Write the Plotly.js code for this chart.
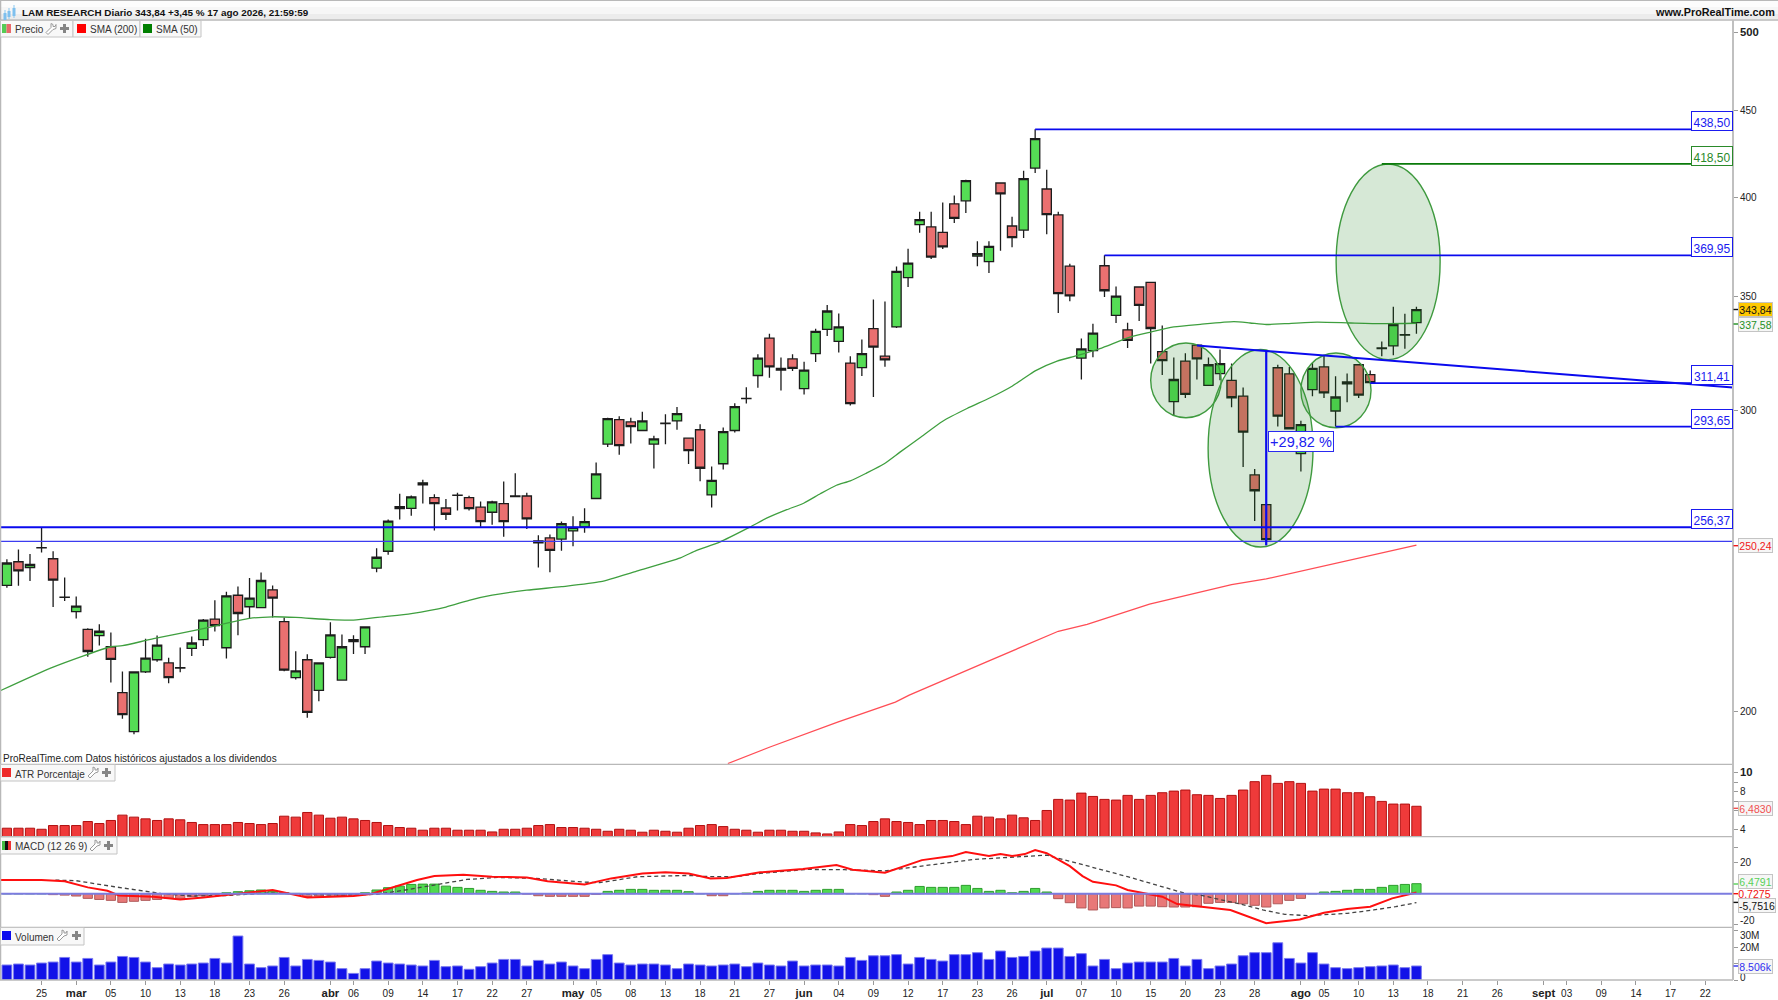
<!DOCTYPE html>
<html>
<head>
<meta charset="utf-8">
<script src="https://cdn.plot.ly/plotly-3.0.1.min.js"></script>
<style>html,body{margin:0;padding:0;background:#fff}#c{width:1778px;height:1000px}</style>
</head>
<body>
<div id="c"></div>
<script>
var opens=[237.0,244.7,242.8,249.3,245.7,233.3,228.8,223.4,221.5,218.2,205.1,194.6,210.9,214.4,213.5,212.0,217.7,220.3,226.5,217.9,233.9,230.3,230.0,235.6,225.7,209.3,214.4,205.7,215.1,208.6,219.7,218.2,242.6,248.2,262.9,263.0,271.5,266.8,263.1,267.7,266.8,263.4,261.6,264.7,267.4,267.4,251.7,252.7,252.3,255.1,256.5,266.5,
286.8,296.4,295.5,292.1,286.8,295.0,295.9,289.1,292.4,267.8,279.3,292.1,304.9,314.6,330.9,316.9,321.7,309.1,324.0,334.8,329.4,319.9,318.0,335.1,322.9,335.9,359.0,385.6,384.4,381.6,396.6,398.2,369.6,366.8,407.9,384.9,382.8,416.2,404.6,390.7,364.6,322.1,325.3,364.8,341.2,334.6,354.5,356.7,324.9,303.7,320.8,327.8,310.4,315.4,312.5,306.0,275.1,264.3,317.9,315.3,283.1,308.7,318.3,299.9,311.9,319.2,315.0,326.2,327.4,332.2,337.9];
var highs=[245.5,248.8,247.3,256.3,248.2,239.6,233.5,223.7,224.9,222.4,211.0,211.1,220.6,221.5,215.0,218.0,221.2,226.5,232.3,235.0,236.7,239.4,241.2,237.0,227.0,216.9,216.0,213.5,225.5,221.8,221.6,224.1,249.2,259.1,268.2,267.6,273.3,268.0,266.3,268.6,267.5,265.4,265.7,272.7,275.7,268.6,253.6,253.9,258.4,260.2,263.0,279.8,
297.2,297.8,297.2,299.6,290.0,298.6,301.5,289.1,294.6,278.3,293.3,303.0,309.7,323.7,332.8,322.3,323.7,320.5,335.1,346.0,342.1,322.9,330.3,348.6,347.6,364.4,373.3,392.4,392.4,397.3,401.0,409.7,377.0,377.0,408.1,389.7,414.7,438.5,415.2,392.4,365.8,330.7,337.4,369.95,354.7,337.8,354.5,356.9,336.6,322.3,324.2,327.8,322.3,325.8,319.7,309.6,277.3,264.3,319.2,318.2,296.0,320.1,323.3,314.3,315.4,319.2,316.7,329.4,345.2,341.9,345.2];
var lows=[236.3,236.9,238.4,247.8,230.2,232.1,226.7,215.3,218.6,207.9,198.0,193.9,210.6,213.8,207.7,210.8,215.5,218.4,222.7,214.8,221.6,226.6,230.0,227.0,211.1,208.8,198.3,202.7,214.8,208.4,216.1,216.1,241.3,247.0,259.1,260.4,264.7,255.2,258.9,262.2,262.2,256.5,257.2,253.1,267.1,255.8,242.8,241.3,248.4,249.9,254.5,266.5,
285.7,282.7,287.0,292.1,277.5,286.7,292.4,279.2,272.8,263.3,277.1,291.3,302.9,309.4,313.7,308.3,316.5,306.6,320.4,331.8,324.5,302.1,314.4,305.6,318.3,335.4,354.5,381.4,368.1,373.2,386.5,391.7,364.6,361.2,372.2,374.0,378.7,413.4,380.6,342.3,347.8,312.9,322.4,349.7,337.7,326.5,338.6,319.7,314.8,298.2,305.2,312.9,310.4,312.6,301.4,278.1,258.5,250.2,293.7,292.8,276.4,305.9,305.2,293.7,303.5,305.2,311.2,322.9,323.3,326.2,332.8];
var closes=[244.3,241.7,243.8,249.4,238.7,233.2,230.5,216.8,222.8,214.5,199.1,210.9,214.9,218.7,209.3,212.1,219.3,226.2,224.5,233.7,228.2,233.0,238.6,233.0,211.4,211.2,199.7,213.5,221.7,218.2,220.3,224.1,246.2,258.5,263.6,267.1,272.2,264.7,260.9,267.6,262.9,258.3,265.3,258.3,267.2,259.3,251.0,248.5,257.6,256.3,258.3,275.5,
296.8,286.2,293.6,295.9,288.8,294.8,298.8,284.3,277.6,273.1,291.7,301.7,305.0,322.1,318.3,317.6,317.6,316.9,333.9,343.2,335.9,302.9,324.0,326.9,321.3,362.0,366.1,388.2,369.1,374.2,388.9,409.2,370.8,374.5,401.9,378.9,410.3,433.0,390.9,351.3,350.3,326.1,333.1,352.7,350.2,329.9,345.8,335.2,321.0,312.9,306.7,321.7,319.2,319.7,305.3,291.5,269.3,252.1,297.8,292.8,294.4,317.6,307.3,305.6,311.1,306.4,311.6,326.5,337.0,332.4,343.84];

var sma50Idx=[-0.6,4,9,10,12.7,17,21,23,25,28,30,32.5,35,38,40,42,45,48,51.4,54.4,58.3,59.7,61.7,64.3,65.8,67.5,69,70.4,71.8,73,74.4,75.9,77.3,79,81,83.1,85.1,87,88,89,90.9,92.6,94.6,97.2,99,101,103.3,106.2,107.6,109,110.6,113.4,116.3,119,122];
var sma50Val=[205.6,212.3,218.2,218.5,220.6,223.6,226.7,227.2,227.0,226.3,226.2,227.2,228.2,230.2,232.3,233.9,235.5,236.6,238.2,241.5,246.0,248.5,251.3,256.4,259.6,262.5,264.9,268.2,271.3,272.9,275.8,279.2,283.7,289.2,295.8,300.9,305.3,310.1,313.3,316.6,320.8,323.1,326.2,331.3,333.6,335.9,337.1,338.3,337.7,337.0,337.4,338.1,337.7,337.4,337.58];
var sma200Idx=[62.4,66.05,71.9,76.9,78.1,82.2,85,91,93.5,98.9,106,109,115.6,122];
var sma200Val=[186.4,190.6,197.1,202.5,204.4,210.2,214.1,222.8,224.9,231.1,237.3,239.1,244.6,250.24];

var atrVals=[4.18,4.18,4.18,4.07,4.46,4.46,4.46,4.88,4.67,4.99,5.55,5.34,5.16,4.99,5.16,5.06,4.78,4.56,4.56,4.56,4.78,4.67,4.56,4.67,5.44,5.34,5.83,5.55,5.23,5.34,5.16,4.99,4.78,4.46,4.25,4.18,3.97,4.18,4.18,3.97,3.97,3.97,3.79,4.07,4.07,4.18,4.46,4.56,4.25,4.25,4.18,4.07,
3.86,4.07,3.97,3.76,3.97,3.86,3.76,4.18,4.46,4.56,4.35,4.07,3.97,3.76,3.97,3.97,3.86,3.86,3.69,3.58,3.79,4.56,4.46,4.88,5.16,4.88,4.78,4.56,4.99,4.99,4.88,4.56,5.44,5.34,5.16,5.55,5.27,4.99,6.04,7.20,7.13,7.86,7.51,7.20,7.13,7.62,7.20,7.62,7.90,8.07,8.18,7.69,
7.62,7.30,7.62,8.18,9.06,9.72,8.88,9.06,8.88,8.07,8.28,8.28,7.90,7.90,7.48,6.99,6.71,6.71,6.48];
var macdIdx=[-0.6,3,5,7,8.7,9.7,12.7,15,17,20,23,26,30,31.5,33.5,35.5,37,39.5,42,45,46.8,50,52.3,55,57,59,60.9,62.3,65.2,68.9,71.8,73.2,76,77.8,79.2,81.8,83,85,86,87,88.1,89,90,92,93.1,94,96,97,99,100,101.3,103,105.9,109,111.9,114,116,118,119.9,122];
var macdVals=[8.8,8.8,8.0,4.1,1.9,-1.1,-1.9,-3.7,-2.4,-0.2,2.4,-2.4,-1.5,-0.2,4.1,8.8,11.4,12.3,11.0,10.5,8.0,6.0,9.9,13.1,13.8,13.1,9.9,10.1,13.8,15.9,18.5,15.5,13.5,18.1,21.7,24.3,26.9,24.3,25.6,24.3,25.6,28.2,26.2,17.8,11.4,7.7,5.4,2.4,-0.2,-1.9,-6.7,-8.0,-10.5,-19.1,-16.6,-12.3,-9.9,-8.4,-3.0,0.7275];
var signalIdx=[4.2,6,9.3,13.3,16,19.3,22.6,25.9,29.2,32,34.5,37.5,39.8,42.5,45.8,50,51.3,54.6,59,60.9,63,65.2,69.2,72.5,76,81,83.8,87.7,90,92.7,97,102,103.3,105.2,106.8,108.7,110.6,112.6,116,118.3,120.2,122];
var signalVals=[8.8,8.4,4.5,0.2,-1.5,-1.1,0.6,-0.4,-0.9,-0.4,2.4,6.0,9.2,10.5,9.9,7.5,7.1,11.0,11.8,11.0,11.0,13.1,15.7,15.5,14.8,19.6,22.2,23.9,24.9,19.6,11.0,0.2,-0.9,-4.1,-6.7,-10.5,-13.3,-14.2,-12.7,-10.5,-8.4,-5.75];
var histVals=[0,0,0,0,-0.6,-0.9,-1.5,-3.0,-3.7,-4.3,-5.6,-4.9,-4.3,-3.7,-3.0,-3.0,-1.9,-1.3,-0.4,0.6,1.3,1.9,2.4,1.7,0.6,0.2,-1.9,-1.5,-0.9,-1.3,-0.9,0.6,2.4,3.9,4.9,6.0,6.2,6.2,4.9,4.1,3.4,2.2,1.5,1.1,1.1,-0.2,-1.3,-1.7,-1.7,-1.7,-1.7,-0.4,
1.5,2.2,2.8,2.8,2.2,2.2,2.2,1.3,0,-1.3,-1.3,0,0.4,1.5,2.2,2.2,2.2,1.5,2.2,2.8,2.8,0,0,-0.6,-1.7,1.1,2.2,4.7,4.1,4.1,4.1,5.4,3.4,1.5,2.2,0.6,1.5,3.4,1.1,-3.2,-5.8,-9.2,-10.5,-9.2,-9.0,-9.2,-8.0,-8.0,-8.4,-8.6,-8.6,-8.4,
-6.2,-5.6,-5.6,-6.5,-7.5,-8.6,-6.5,-4.3,-3.0,0,1.1,1.5,2.2,2.8,2.8,4.1,5.4,6.0,6.48];
var volVals=[9.1,9.7,9.1,10.3,10.9,13.7,10.9,13.1,9.1,10.9,14.3,13.7,10.9,7.5,9.7,9.1,9.7,10.3,13.1,10.3,26.7,9.7,7.5,8.5,13.7,8.5,12.5,11.9,10.9,6.9,4.0,6.9,11.5,10.3,9.7,9.1,8.5,11.9,8.1,8.5,6.5,8.1,10.3,12.5,12.5,8.5,11.9,9.7,10.9,8.5,6.9,12.5,
15.4,10.3,9.1,9.7,9.7,9.1,6.9,9.7,9.1,8.5,9.1,9.7,8.1,10.3,9.1,8.5,11.5,8.5,9.1,9.1,8.5,13.7,11.9,14.7,14.7,15.4,9.7,13.7,12.5,11.5,15.4,15.4,16.6,12.5,17.6,13.7,14.3,17.6,19.4,19.4,14.3,16.0,8.5,12.5,6.9,10.3,10.9,10.9,10.9,13.1,8.5,12.5,
6.9,8.5,9.7,14.7,16.6,16.6,22.6,13.1,10.3,16.6,9.7,7.5,6.9,7.5,8.1,8.5,9.1,7.5,8.506];

function big(t){return '<span style="font-size:11.3px"><b>'+t+'</b></span>';}
var tickIdx=[3,6,9,12,15,18,21,24,28,30,33,36,39,42,45,49,51,54,57,60,63,66,69,72,75,78,81,84,87,90,93,96,99,102,105,108,112,114,117,120,123,126,129,133,135,138,141,144,147];
var tickLabels=['25',big('mar'),'05','10','13','18','23','26',big('abr'),'06','09','14','17','22','27',big('may'),'05','08','13','18','21','27',big('jun'),'04','09','12','17','23','26',big('jul'),'07','10','15','20','23','28',big('ago'),'05','10','13','18','21','26',big('sept'),'03','09','14','17','22'];
var priceTicks=[200,300,350,400,450,500];
var priceLabels=['200','300','350','400','450',big('500')];

var levelsBlue=[[89,438.5,'438,50'],[95,369.95,'369,95'],[118,311.41,'311,41'],[115,293.65,'293,65']];
var levelGreen=[119,418.5,'418,50'];
var supportStrong=[256.37,'256,37'];
var supportThin=251.5;
var trendLine=[[103,327.6],[149.4,309.5]];
var moveLine=[[109,325.6],[109,250.2]];
var ellipses=[[99.0,105.1,297.2,328.7],[103.97,113.05,249.6,325.8],[112.0,118.07,293.2,324.3],[115.05,124.05,321.4,418.5]];

var xLo=-0.51,xHi=149.4;
function px(x){return x/1778;}
function py(y){return 1-y/1000;}
var idx=opens.map(function(_,i){return i;});
var BLUE='#0a0aee';

var traces=[
 {type:'candlestick',x:idx,open:opens,high:highs,low:lows,close:closes,xaxis:'x',yaxis:'y',
  increasing:{line:{color:'#1c1c1c',width:1.3},fillcolor:'#55dd55'},
  decreasing:{line:{color:'#1c1c1c',width:1.3},fillcolor:'#ea7070'},whiskerwidth:0,showlegend:false},
 {type:'scatter',mode:'lines',x:sma50Idx,y:sma50Val,xaxis:'x',yaxis:'y',line:{color:'#3f9f3f',width:1.3,shape:'spline',smoothing:0.6},showlegend:false},
 {type:'scatter',mode:'lines',x:sma200Idx,y:sma200Val,xaxis:'x',yaxis:'y',line:{color:'#ff4d55',width:1.3},showlegend:false},
 {type:'bar',x:idx,y:atrVals,xaxis:'x',yaxis:'y2',width:0.8,marker:{color:'#ef3a3a',line:{color:'#b01010',width:1}},showlegend:false},
 {type:'bar',x:idx,y:histVals,xaxis:'x',yaxis:'y3',width:0.8,
  marker:{color:histVals.map(function(v){return v>=0?'#4fd94f':'#e87878';}),line:{color:histVals.map(function(v){return v>=0?'#2e9e2e':'#b05a5a';}),width:1}},showlegend:false},
 {type:'scatter',mode:'lines',x:signalIdx,y:signalVals,xaxis:'x',yaxis:'y3',line:{color:'#444',width:1.3,dash:'4px,3px'},showlegend:false},
 {type:'scatter',mode:'lines',x:macdIdx,y:macdVals,xaxis:'x',yaxis:'y3',line:{color:'#ff0f0f',width:2},showlegend:false},
 {type:'bar',x:idx,y:volVals,xaxis:'x',yaxis:'y4',width:0.85,marker:{color:'#1212e8',line:{color:'#7a7af0',width:1}},showlegend:false}
];

var shapes=[];
function rect(x0,y0,x1,y1,fill,line){shapes.push({type:'rect',xref:'paper',yref:'paper',x0:px(x0),x1:px(x1),y0:py(y0),y1:py(y1),fillcolor:fill,line:{color:line||'rgba(0,0,0,0)',width:line?1:0},layer:'above'});}
function hline(x0,x1,y,c,w){shapes.push({type:'line',xref:'paper',yref:'paper',x0:px(x0),x1:px(x1),y0:py(y),y1:py(y),line:{color:c,width:w||1},layer:'above'});}
function vline(x,y0,y1,c,w){shapes.push({type:'line',xref:'paper',yref:'paper',x0:px(x),x1:px(x),y0:py(y0),y1:py(y1),line:{color:c,width:w||1},layer:'above'});}
function dline(a,b,c,w){shapes.push({type:'line',xref:'x',yref:'y',x0:a[0],y0:a[1],x1:b[0],y1:b[1],line:{color:c,width:w},layer:'above'});}

// drawings on the price pane
ellipses.forEach(function(e){shapes.push({type:'circle',xref:'x',yref:'y',x0:e[0],x1:e[1],y0:e[2],y1:e[3],fillcolor:'rgba(30,130,30,0.18)',line:{color:'#3f9a3f',width:1.4},layer:'above'});});
levelsBlue.forEach(function(l){dline([l[0],l[1]],[xHi,l[1]],BLUE,1.8);});
dline([levelGreen[0],levelGreen[1]],[xHi,levelGreen[1]],'#0a7a0a',1.8);
dline([xLo,supportStrong[0]],[xHi,supportStrong[0]],BLUE,2);
dline([xLo,supportThin],[xHi,supportThin],'#3c3cf0',1.2);
dline(trendLine[0],trendLine[1],BLUE,2);
dline(moveLine[0],moveLine[1],BLUE,2.2);
// MACD zero line
shapes.push({type:'line',xref:'x',yref:'y3',x0:xLo,x1:xHi,y0:0,y1:0,line:{color:'#7c7ce0',width:2},layer:'above'});

// chrome
rect(0,0,1778,7,'#fcfcfc');rect(0,7,1778,14,'#f6f6f6');rect(0,14,1778,19,'#ececec');
hline(0,1778,0.5,'#b8b8b8',1);hline(0,1778,20,'#b8b8b8',1.5);
vline(0.5,0,980,'#b8b8b8',1.5);
hline(0,1733,764.3,'#b8b8b8',1.2);hline(0,1733,836.6,'#b8b8b8',1.2);hline(0,1733,927.3,'#b8b8b8',1.2);hline(0,1733,980,'#b8b8b8',1.5);
vline(1733,20,980,'#c0c0c0',2);
// header icon
[[5,13,21],[9,11,17],[14,8,16]].forEach(function(c){vline(c[0],c[1]-3,c[2]+2,'#8ac8ef',1);rect(c[0]-1.5,c[1],c[0]+1.5,c[2],'#7ec0ee');});

function wrench(x,y){shapes.push({type:'path',xref:'paper',yref:'paper',layer:'above',
 path:'M'+px(x)+','+py(y+9)+' L'+px(x+5)+','+py(y+4)+' L'+px(x+5)+','+py(y)+' L'+px(x+7)+','+py(y+1)+' L'+px(x+7)+','+py(y+3)+' L'+px(x+9)+','+py(y+3)+' L'+px(x+10)+','+py(y+1)+' L'+px(x+10)+','+py(y+5)+' L'+px(x+7)+','+py(y+6)+' L'+px(x+2)+','+py(y+11)+' Z',
 fillcolor:'#fff',line:{color:'#9a9a9a',width:1}});}
function plus(x,y){rect(x,y+3,x+9,y+6,'#858585');rect(x+3,y,x+6,y+9,'#858585');}
function chip(x,y,c){rect(x,y,x+9,y+9,c);}
function box(x0,y0,x1,y1){rect(x0,y0,x1,y1,'#f8f8f8','#c4c4c4');}

var ann=[];
function txt(x,y,t,o){o=o||{};ann.push(Object.assign({xref:'paper',yref:'paper',x:px(x),y:py(y),text:t,showarrow:false,xanchor:o.xa||'left',yanchor:'middle',
 font:{family:'"Liberation Sans",Arial,sans-serif',size:o.size||10,color:o.color||'#222'}},o.extra||{}));}

box(0.5,20.5,73,37);box(73,20.5,140,37);box(140,20.5,201,37);
rect(2,24,6.5,33,'#55cc55');rect(6.5,24,11,33,'#e86a6a');wrench(46,23.5);plus(60,24);
chip(77,24,'#ff0000');chip(143,24,'#007f00');
box(0.5,764.5,115,781);chip(2,768,'#ee2b2b');wrench(88,767);plus(102,768);
box(0.5,837,117,854);rect(2,841,5,850,'#44bb44');rect(5,841,8,850,'#111');rect(8,841,11,850,'#ee3333');wrench(90,840);plus(104,841);
box(0.5,927.5,84,945);chip(2,931,'#0a0aee');wrench(57,930);plus(72,931);

txt(20,12.5,'<b>LAM RESEARCH Diario 343,84 +3,45 % 17 ago 2026, 21:59:59</b>',{size:9.9,color:'#111'});
txt(1777,12.5,'<b>www.ProRealTime.com</b>',{size:10.8,color:'#111',xa:'right'});
txt(12.5,29.5,'Precio',{color:'#333'});txt(88,29.5,'SMA (200)',{color:'#333'});txt(154,29.5,'SMA (50)',{color:'#333'});
txt(13,774,'ATR Porcentaje',{color:'#333'});txt(13,846,'MACD (12 26 9)',{color:'#333'});txt(13,937,'Volumen',{color:'#333'});
txt(0.5,758.5,'ProRealTime.com Datos históricos ajustados a los dividendos',{color:'#222'});

// level tags
function tag(v,t,c){ann.push({xref:'paper',yref:'y',x:px(1732.5),y:Math.log10(v),xanchor:'right',yanchor:'bottom',yshift:-2,valign:'bottom',text:t,showarrow:false,width:40,height:18,borderpad:0,borderwidth:1,bordercolor:c,bgcolor:'#fff',font:{family:'"Liberation Sans",Arial,sans-serif',size:12,color:c},align:'center'});}
levelsBlue.forEach(function(l){tag(l[1],l[2],'#1a1af0');});
tag(levelGreen[1],levelGreen[2],'#2a8a2a');
tag(supportStrong[0],supportStrong[1],'#1a1af0');
// percent tag
ann.push({xref:'paper',yref:'paper',x:px(1301),y:py(441.5),xanchor:'center',yanchor:'middle',text:'+29,82 %',showarrow:false,width:64,height:19,borderpad:0,borderwidth:1,bordercolor:'#2a2af0',bgcolor:'#fff',font:{family:'"Liberation Sans",Arial,sans-serif',size:14.5,color:'#2020f0'}});

txt(1738,920.7,'-20',{color:'#222'});
txt(1738,935,'30M',{color:'#222'});
txt(1738,977,'0',{color:'#222'});

// value tags on the scale
function vtag(y,t,color,bg,w,dash){hline(1733.5,1738,dash===undefined?y:dash,color,1.4);
 ann.push({xref:'paper',yref:'paper',x:px(1738),y:py(y),xanchor:'left',yanchor:'middle',text:t,showarrow:false,width:w||33,height:13,borderpad:0,borderwidth:bg===null?0:1,bordercolor:'#c4c4c4',bgcolor:bg===null?'rgba(0,0,0,0)':bg,font:{family:'"Liberation Sans",Arial,sans-serif',size:10.5,color:color}});}
vtag(309.5,'343,84','#111','#ffc800');
vtag(324,'337,58','#1f8f1f','#f6f6f6');
vtag(545.7,'250,24','#f01818','#f6f6f6');
vtag(808.3,'6,4830','#f05050','#f6f6f6');
vtag(881.5,'6,4791','#58d058','#f6f6f6',33,884);
vtag(893.7,'0,7275','#f01010',null);
vtag(905.7,'-5,7516','#111','#f6f6f6',36,902.4);
vtag(966,'8.506k','#3030f0','#f6f6f6');

var tf={family:'"Liberation Sans",Arial,sans-serif',size:10,color:'#222'};
function yax(domain,extra){return Object.assign({domain:domain,side:'right',anchor:'x',showgrid:false,zeroline:false,showline:false,ticks:'outside',ticklen:4,tickcolor:'#999',tickfont:tf,tickmode:'array'},extra);}

var layout={
 width:1778,height:1000,margin:{l:0,r:0,t:0,b:0,autoexpand:false},paper_bgcolor:'#fff',plot_bgcolor:'#fff',
 showlegend:false,barmode:'overlay',boxgap:0.2,boxgroupgap:0,hovermode:false,
 xaxis:{domain:[px(1),px(1733)],range:[xLo,xHi],anchor:'y4',showgrid:false,zeroline:false,showline:false,ticks:'outside',ticklen:4,tickcolor:'#999',tickmode:'array',tickvals:tickIdx,ticktext:tickLabels,tickangle:0,tickfont:tf,rangeslider:{visible:false}},
 yaxis:yax([py(764.3),py(20)],{type:'log',range:[Math.log10(186.2),Math.log10(508.2)],tickvals:priceTicks,ticktext:priceLabels}),
 yaxis2:yax([py(836.6),py(764.3)],{range:[3.3,10.88],tickvals:[4,6,7,8,9,10],ticktext:['4','','','8','',big('10')]}),
 yaxis3:yax([py(927.3),py(836.6)],{range:[-21.7,36.9],tickvals:[-20,20,30],ticktext:['','20','']}),
 yaxis4:yax([py(980),py(927.3)],{range:[0,32],tickvals:[0,10,20,30],ticktext:['','','20M','']}),
 shapes:shapes,annotations:ann
};
Plotly.newPlot('c',traces,layout,{staticPlot:true,displayModeBar:false});
</script>
</body>
</html>
